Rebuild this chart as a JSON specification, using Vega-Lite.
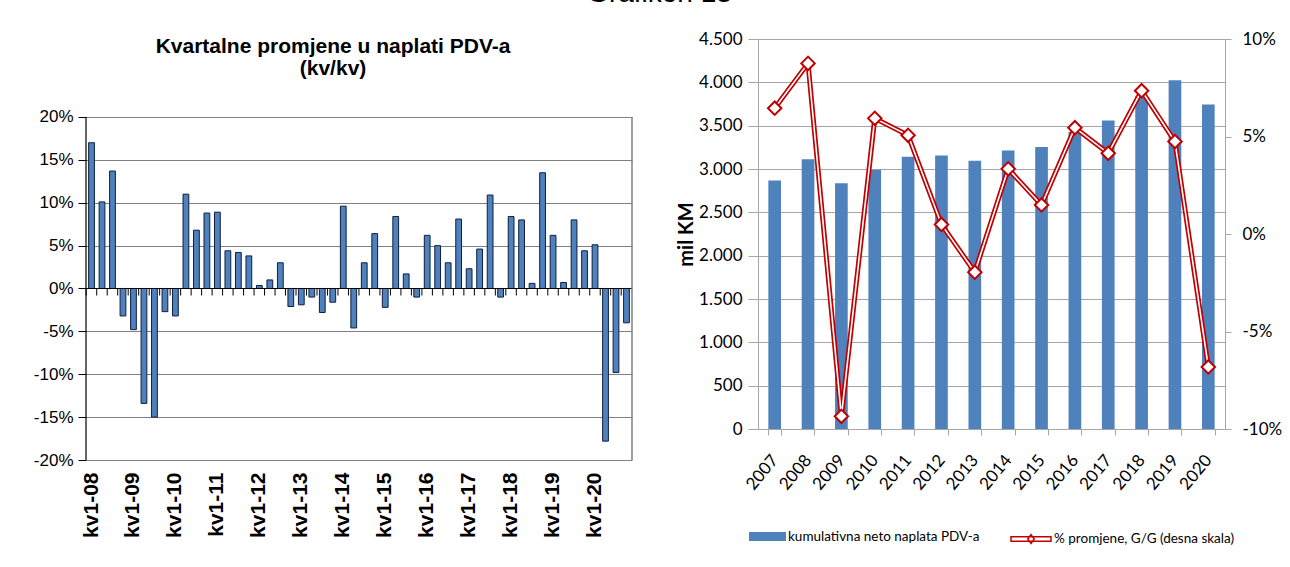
{
  "$schema": "https://vega.github.io/schema/vega-lite/v6.json",
  "background": "white",
  "padding": {"left": 33, "top": -20, "right": 5, "bottom": 5},
  "title": {"text": "Grafikon 13", "font": "Liberation Sans", "fontSize": 28, "fontWeight": "normal", "color": "#000", "anchor": "middle", "offset": 22, "dx": 2},
  "config": {
    "locale": {"number": {"decimal": ",", "thousands": ".", "grouping": [3], "currency": ["", ""]}},
    "axis": {"labelColor": "#000", "titleColor": "#000"},
    "legend": {"layout": {"bottom": {"anchor": "middle", "direction": "horizontal", "margin": 30}}}
  },
  "spacing": 43,
  "resolve": {"scale": {"fill": "independent", "stroke": "independent"}, "legend": {"fill": "independent", "stroke": "independent"}},
  "hconcat": [
    {
      "width": 546,
      "height": 421,
      "title": {"text": ["Kvartalne promjene u naplati PDV-a", "(kv/kv)"], "font": "Liberation Sans", "fontSize": 21, "fontWeight": "bold", "color": "#000", "lineHeight": 22, "anchor": "middle", "frame": "bounds", "offset": -40},
      "view": {"stroke": null, "fill": "white"},
      "data": {"values": [
        {"q": "kv1-08", "v": 17.0}, {"q": "kv2-08", "v": 10.1}, {"q": "kv3-08", "v": 13.7}, {"q": "kv4-08", "v": -3.2},
        {"q": "kv1-09", "v": -4.8}, {"q": "kv2-09", "v": -13.4}, {"q": "kv3-09", "v": -15.0}, {"q": "kv4-09", "v": -2.7},
        {"q": "kv1-10", "v": -3.2}, {"q": "kv2-10", "v": 11.0}, {"q": "kv3-10", "v": 6.8}, {"q": "kv4-10", "v": 8.8},
        {"q": "kv1-11", "v": 8.9}, {"q": "kv2-11", "v": 4.4}, {"q": "kv3-11", "v": 4.2}, {"q": "kv4-11", "v": 3.8},
        {"q": "kv1-12", "v": 0.35}, {"q": "kv2-12", "v": 1.0}, {"q": "kv3-12", "v": 3.0}, {"q": "kv4-12", "v": -2.1},
        {"q": "kv1-13", "v": -1.9}, {"q": "kv2-13", "v": -1.0}, {"q": "kv3-13", "v": -2.8}, {"q": "kv4-13", "v": -1.6},
        {"q": "kv1-14", "v": 9.6}, {"q": "kv2-14", "v": -4.6}, {"q": "kv3-14", "v": 3.0}, {"q": "kv4-14", "v": 6.4},
        {"q": "kv1-15", "v": -2.2}, {"q": "kv2-15", "v": 8.4}, {"q": "kv3-15", "v": 1.7}, {"q": "kv4-15", "v": -1.0},
        {"q": "kv1-16", "v": 6.2}, {"q": "kv2-16", "v": 5.0}, {"q": "kv3-16", "v": 3.0}, {"q": "kv4-16", "v": 8.1},
        {"q": "kv1-17", "v": 2.3}, {"q": "kv2-17", "v": 4.6}, {"q": "kv3-17", "v": 10.9}, {"q": "kv4-17", "v": -1.0},
        {"q": "kv1-18", "v": 8.4}, {"q": "kv2-18", "v": 8.0}, {"q": "kv3-18", "v": 0.6}, {"q": "kv4-18", "v": 13.5},
        {"q": "kv1-19", "v": 6.2}, {"q": "kv2-19", "v": 0.7}, {"q": "kv3-19", "v": 8.0}, {"q": "kv4-19", "v": 4.4},
        {"q": "kv1-20", "v": 5.1}, {"q": "kv2-20", "v": -17.8}, {"q": "kv3-20", "v": -9.8}, {"q": "kv4-20", "v": -4.0}
      ]},
      "layer": [
        {
          "mark": {"type": "bar", "fill": "#4F81BD", "stroke": "#0F1F3D", "strokeWidth": 1},
          "encoding": {
            "x": {"field": "q", "type": "nominal", "sort": null, "scale": {"paddingInner": 0.45, "paddingOuter": 0.25},
              "axis": {"title": null, "values": ["kv1-08", "kv1-09", "kv1-10", "kv1-11", "kv1-12", "kv1-13", "kv1-14", "kv1-15", "kv1-16", "kv1-17", "kv1-18", "kv1-19", "kv1-20"],
                "labelAngle": -90, "labelAlign": "right", "labelBaseline": "middle", "labelFont": "Liberation Sans", "labelFontSize": 21, "labelFontWeight": "bold", "labelColor": "#000", "labelPadding": 12, "ticks": false, "domain": false, "grid": false}},
            "y": {"field": "v", "type": "quantitative", "scale": {"domain": [-20, 29.096], "nice": false, "zero": false},
              "axis": {"title": null, "values": [-20, -15, -10, -5, 0, 5, 10, 15, 20], "labelExpr": "datum.value + '%'", "labelFont": "Liberation Sans", "labelFontSize": 17, "labelColor": "#000", "grid": true, "gridColor": "#808080", "gridWidth": 1, "domain": false, "tickColor": "#000", "tickSize": 8, "labelPadding": 5}}
          }
        },
        {
          "data": {"values": [{"z": 0}]},
          "mark": {"type": "rule", "color": "#000", "strokeWidth": 1},
          "encoding": {"y": {"field": "z", "type": "quantitative"}}
        },
        {
          "mark": {"type": "tick", "orient": "vertical", "size": 7, "thickness": 1, "color": "#000", "yOffset": 3.5, "xOffset": -2.4, "opacity": 1},
          "encoding": {
            "x": {"field": "q", "type": "nominal", "sort": null, "bandPosition": 0},
            "y": {"datum": 0, "type": "quantitative"}
          }
        },
        {
          "data": {"values": [{"z": 0}]},
          "mark": {"type": "rule", "color": "#000", "strokeWidth": 1.2, "xOffset": -2.62},
          "encoding": {
            "x": {"datum": "kv1-08", "type": "nominal", "bandPosition": 0},
            "y": {"datum": -20, "type": "quantitative"},
            "y2": {"datum": 20}
          }
        },
        {
          "data": {"values": [{"z": 0}]},
          "mark": {"type": "rule", "color": "#808080", "strokeWidth": 1.5, "xOffset": 2.62},
          "encoding": {
            "x": {"datum": "kv4-20", "type": "nominal", "bandPosition": 1},
            "y": {"datum": -20, "type": "quantitative"},
            "y2": {"datum": 20}
          }
        }
      ]
    },
    {
      "width": 467,
      "height": 390,
      "view": {"stroke": null},
      "data": {"values": [
        {"g": "2007", "b": 2867, "p": 6.45},
        {"g": "2008", "b": 3113, "p": 8.75},
        {"g": "2009", "b": 2836, "p": -9.35},
        {"g": "2010", "b": 2990, "p": 5.93},
        {"g": "2011", "b": 3140, "p": 5.06},
        {"g": "2012", "b": 3155, "p": 0.49},
        {"g": "2013", "b": 3094, "p": -1.96},
        {"g": "2014", "b": 3213, "p": 3.34},
        {"g": "2015", "b": 3255, "p": 1.49},
        {"g": "2016", "b": 3430, "p": 5.45},
        {"g": "2017", "b": 3559, "p": 4.14},
        {"g": "2018", "b": 3840, "p": 7.35},
        {"g": "2019", "b": 4024, "p": 4.74},
        {"g": "2020", "b": 3743, "p": -6.82}
      ]},
      "encoding": {
        "x": {"field": "g", "type": "nominal", "sort": null, "scale": {"paddingInner": 0.62, "paddingOuter": 0.31},
          "axis": {"title": null, "labelAngle": -50, "labelAlign": "right", "labelBaseline": "middle", "labelFont": "Lato", "labelFontSize": 17, "labelColor": "#000", "labelPadding": 22, "tickBand": "extent", "tickSize": 6, "tickColor": "#A6A6A6", "domainColor": "#A6A6A6", "grid": false}}
      },
      "layer": [
        {
          "mark": {"type": "bar"},
          "encoding": {
            "y": {"field": "b", "type": "quantitative", "scale": {"domain": [0, 4500], "nice": false},
              "axis": {"title": "mil KM", "titleFont": "Lato", "titleFontSize": 20, "titleFontWeight": "bold", "titleColor": "#000", "titlePadding": 2,
                "values": [0, 500, 1000, 1500, 2000, 2500, 3000, 3500, 4000, 4500], "format": ",d", "labelFont": "Lato", "labelFontSize": 17, "labelColor": "#000",
                "grid": true, "gridColor": "#A6A6A6", "gridWidth": 1.2, "domainColor": "#A6A6A6", "tickColor": "#A6A6A6", "tickSize": 10, "labelPadding": 6}},
            "fill": {"datum": "kumulativna neto naplata PDV-a", "type": "nominal", "scale": {"range": ["#4F81BD"]},
              "legend": {"title": null, "orient": "bottom", "direction": "horizontal", "symbolType": "M-1,-0.243H1V0.243H-1Z", "symbolSize": 1369, "symbolStrokeWidth": 0, "labelFont": "Lato", "labelFontSize": 13.5, "labelColor": "#000", "labelOffset": 2, "labelLimit": 400, "padding": 0, "offset": 25}}
          }
        },
        {
          "mark": {"type": "line", "stroke": "#C00000", "strokeWidth": 5},
          "encoding": {
            "y": {"field": "p", "type": "quantitative", "scale": {"domain": [-10, 10], "nice": false},
              "axis": {"orient": "right", "title": null, "values": [-10, -5, 0, 5, 10], "labelExpr": "datum.value + '%'", "labelFont": "Lato", "labelFontSize": 17, "labelColor": "#000", "grid": false, "domainColor": "#A6A6A6", "tickColor": "#A6A6A6", "tickSize": 6, "labelPadding": 11}}
          }
        },
        {
          "mark": {"type": "line", "stroke": "#ffffff", "strokeWidth": 1.6},
          "encoding": {
            "y": {"field": "p", "type": "quantitative", "scale": {"domain": [-10, 10], "nice": false}, "axis": null}
          }
        },
        {
          "mark": {"type": "point", "shape": "diamond", "filled": true, "fill": "#ffffff", "size": 180, "strokeWidth": 2, "opacity": 1},
          "encoding": {
            "y": {"field": "p", "type": "quantitative", "scale": {"domain": [-10, 10], "nice": false}, "axis": null},
            "stroke": {"datum": "% promjene, G/G (desna skala)", "type": "nominal", "scale": {"range": ["#C00000"]},
              "legend": {"title": null, "orient": "bottom", "direction": "horizontal", "symbolType": "M-1,-0.11H1V0.11H-1Z M0,-0.22L0.16,0L0,0.22L-0.16,0Z", "symbolSize": 1600, "symbolStrokeWidth": 1.5, "labelFont": "Lato", "labelFontSize": 13.5, "labelColor": "#000", "labelOffset": 2, "labelLimit": 400, "padding": 0, "offset": 25,
                "encode": {"symbols": {"update": {"fill": {"value": "#ffffff"}, "fillOpacity": {"value": 1}, "stroke": {"value": "#C00000"}}}}}}
          }
        }
      ],
      "resolve": {"scale": {"y": "independent"}, "legend": {"fill": "independent", "stroke": "independent"}}
    }
  ]
}
